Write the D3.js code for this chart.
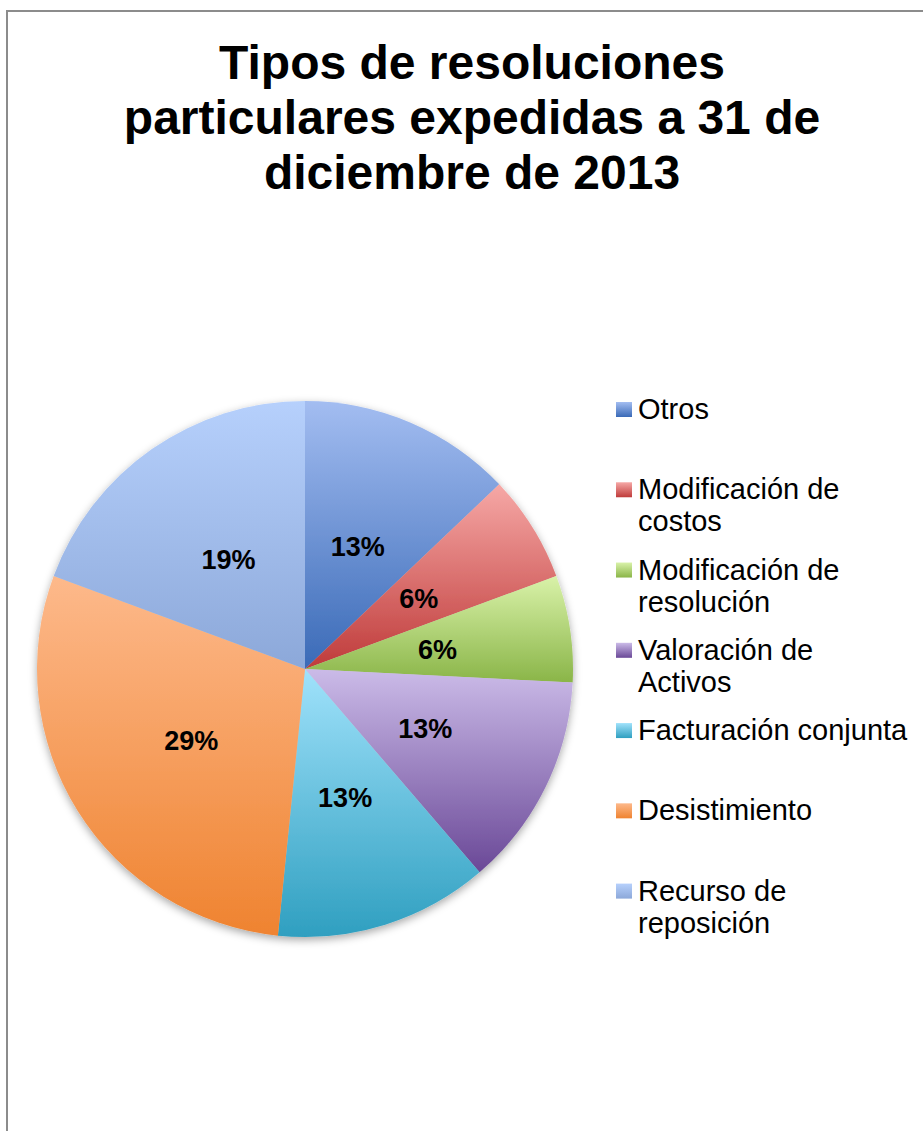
<!DOCTYPE html>
<html>
<head>
<meta charset="utf-8">
<script src="https://cdn.jsdelivr.net/npm/d3@7"></script>
<style>
  html, body { margin: 0; padding: 0; background: #fff; }
  text { font-family: "Liberation Sans", Arial, sans-serif; }
</style>
</head>
<body>
<svg id="paper"></svg>
<script>
// data (counts out of 31)
let categories = ["Otros", "Modificación de costos", "Modificación de resolución",
    "Valoración de Activos", "Facturación conjunta", "Desistimiento", "Recurso de reposición"];
let values = [4, 2, 2, 4, 4, 9, 6];
let legendLines = [["Otros"], ["Modificación de", "costos"], ["Modificación de", "resolución"],
    ["Valoración de", "Activos"], ["Facturación conjunta"], ["Desistimiento"], ["Recurso de", "reposición"]];
let titleLines = ["Tipos de resoluciones", "particulares expedidas a 31 de", "diciembre de 2013"];
let lightColors = ["#a3bdf1", "#f6a8a6", "#d9f2a9", "#cbbbe8", "#a0e2fb", "#fdb98b", "#b6d0fc"];
let darkColors = ["#3a6ab7", "#bf3b3a", "#8ab548", "#6a4897", "#2f9fc0", "#ef8330", "#8ca8d9"];

let width = 923, height = 1131;
let cx = 305, cy = 669, radius = 268;

let svg = d3.select("#paper")
    .attr("width", width)
    .attr("height", height);

svg.append("rect")
    .attr("width", width).attr("height", height)
    .attr("fill", "#fff");

// chart frame (only left and top edges are visible)
svg.append("rect")
    .attr("x", 7).attr("y", 11)
    .attr("width", width + 20).attr("height", height + 20)
    .attr("fill", "none")
    .attr("stroke", "#8c8c8c")
    .attr("stroke-width", 2);

let defs = svg.append("defs");
values.forEach((v, i) => {
    let grad = defs.append("linearGradient")
        .attr("id", "grad-" + i)
        .attr("x1", 0).attr("y1", 0)
        .attr("x2", 0).attr("y2", 1);
    grad.append("stop").attr("offset", "0%").attr("stop-color", lightColors[i]);
    grad.append("stop").attr("offset", "100%").attr("stop-color", darkColors[i]);
});

let shadow = defs.append("filter")
    .attr("id", "shadow")
    .attr("x", "-10%").attr("y", "-10%")
    .attr("width", "120%").attr("height", "120%");
shadow.append("feDropShadow")
    .attr("dx", 0).attr("dy", 3)
    .attr("stdDeviation", 4)
    .attr("flood-color", "#000")
    .attr("flood-opacity", 0.35);

// title
svg.append("text")
    .attr("x", 472)
    .attr("y", 79)
    .style("text-anchor", "middle")
    .style("font-size", "48px")
    .style("font-weight", "bold")
    .selectAll("tspan")
    .data(titleLines)
    .enter()
    .append("tspan")
    .attr("x", 472)
    .attr("dy", (d, i) => i === 0 ? 0 : 55)
    .text(d => d);

// pie
let total = d3.sum(values);
let pie = d3.pie().sort(null).value(d => d);
let arcs = pie(values);
let arc = d3.arc().innerRadius(0).outerRadius(radius);

let g = svg.append("g")
    .attr("transform", "translate(" + cx + "," + cy + ")");

g.append("g")
    .attr("filter", "url(#shadow)")
    .selectAll(".slice")
    .data(arcs)
    .enter()
    .append("path")
    .classed("slice", true)
    .attr("d", arc)
    .attr("fill", (d, i) => "url(#grad-" + i + ")");

g.selectAll(".slice_label")
    .data(arcs)
    .enter()
    .append("text")
    .classed("slice_label", true)
    .attr("transform", d => {
        let c = arc.centroid(d);
        return "translate(" + c[0] + "," + (c[1] + 10) + ")";
    })
    .style("text-anchor", "middle")
    .style("font-size", "27px")
    .style("font-weight", "bold")
    .attr("fill", "#000")
    .text(d => Math.round(d.value / total * 100) + "%");

// legend
let legendY = d3.scaleLinear().domain([0, 6]).range([419, 900.6]);
let legend = svg.append("g");
let items = legend.selectAll(".legend_item")
    .data(legendLines)
    .enter()
    .append("g")
    .classed("legend_item", true)
    .attr("transform", (d, i) => "translate(616," + legendY(i) + ")");

items.append("rect")
    .attr("x", 0)
    .attr("y", -17)
    .attr("width", 16)
    .attr("height", 15)
    .attr("fill", (d, i) => "url(#grad-" + i + ")");

items.append("text")
    .style("font-size", "29px")
    .attr("fill", "#000")
    .selectAll("tspan")
    .data(d => d)
    .enter()
    .append("tspan")
    .attr("x", 22)
    .attr("dy", (d, i) => i === 0 ? 0 : 32)
    .text(d => d);
</script>
</body>
</html>
